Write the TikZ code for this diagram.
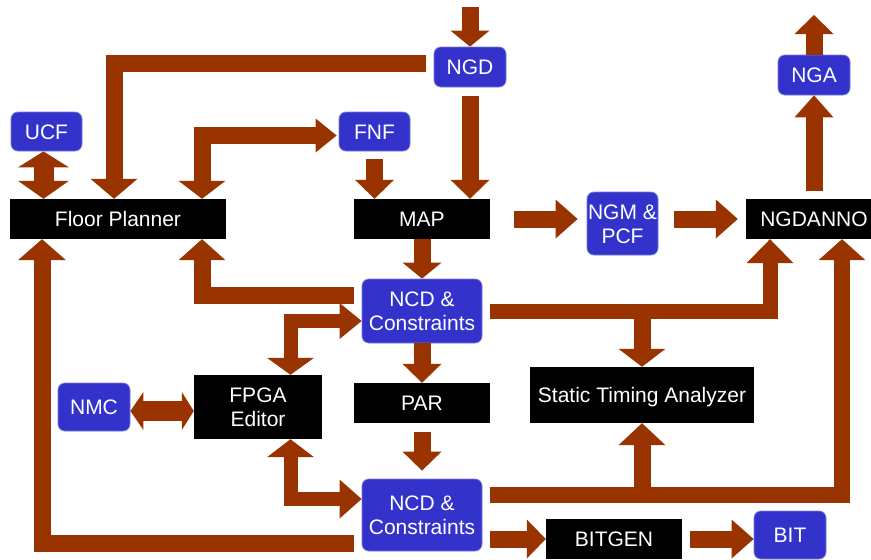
\documentclass[tikz,border=0pt]{standalone}
\usepackage{fontspec}
\setmainfont{Liberation Sans}
\usetikzlibrary{arrows.meta,calc}
\definecolor{brn}{HTML}{993300}
\definecolor{bluf}{HTML}{3333CC}
\definecolor{blub}{HTML}{7777DD}
\begin{document}
\begin{tikzpicture}[x=1pt,y=-1pt,
 lbl/.style={text=white, inner sep=0pt, font=\fontsize{21}{24}\selectfont, align=center, text height=15pt, text depth=0pt},
 two/.style={text height=39pt, text depth=0pt},
 blk/.style={lbl, fill=black},
 blu/.style={lbl, fill=bluf, draw=blub, line width=0.8pt, rounded corners=7pt},
 fat/.style={draw=brn, line width=17pt, line join=miter},
 ta/.tip={Triangle[width=39pt,length=19pt,line width=0pt]},
 tb/.tip={Triangle[width=47pt,length=20pt,line width=0pt]},
 tc/.tip={Triangle[width=39pt,length=22pt,line width=0pt]},
]
\useasboundingbox (0,0) rectangle (871,560);
\fill[white] (0,0) rectangle (871,560);

% nodes
\node[blu, minimum width=71, minimum height=39] (ucf) at (46.5,131.5) {UCF};
\node[blk, minimum width=216, minimum height=40] (fp) at (118,219) {Floor Planner};
\node[blu, minimum width=71, minimum height=39] (fnf) at (374.5,131.5) {FNF};
\node[blk, minimum width=136, minimum height=40] (map) at (422,219) {MAP};
\node[blu, minimum width=72, minimum height=40] (ngd) at (470,67) {NGD};
\node[blu, minimum width=72, minimum height=40] (nga) at (814,75) {NGA};
\node[blu, two, minimum width=71, minimum height=63] (ngm) at (622.5,223.5) {NGM \&\\PCF};
\node[blk, minimum width=136, minimum height=40] (ngdanno) at (814,219) {NGDANNO};
\node[blu, two, minimum width=120, minimum height=64] (ncd1) at (422,311) {NCD \&\\Constraints};
\node[blk, two, minimum width=128, minimum height=64] (fpga) at (258,407) {FPGA\\Editor};
\node[blu, minimum width=72, minimum height=48] (nmc) at (94,407) {NMC};
\node[blk, minimum width=136, minimum height=40] (par) at (422,403) {PAR};
\node[blu, two, minimum width=120, minimum height=72] (ncd2) at (422,515) {NCD \&\\Constraints};
\node[blk, minimum width=224, minimum height=56] (sta) at (642,395) {Static Timing Analyzer};
\node[blk, minimum width=136, minimum height=40] (bitgen) at (614,539) {BITGEN};
\node[blu, minimum width=72, minimum height=48] (bit) at (790,535) {BIT};

\coordinate (in) at (470,7);
\coordinate (out) at (814,15);

% connectors
\draw[fat,-{Triangle[width=39pt,length=16pt,line width=0pt]}] (in) -- (ngd.north);
\draw[fat,-ta] ($(ngd.south)+(0,9)$) -- (ngd.south |- map.north);
\draw[fat,-tb] ($(ngd.west)+(-8,-4)$) -| ($(fp.north)+(-4,0)$);
\draw[fat,line width=20pt,{Triangle[width=51pt,length=16pt,line width=0pt]}-{Triangle[width=51pt,length=18pt,line width=0pt]}]
  ($(ucf.south)+(-3,0)$) -- ($(ucf.south |- fp.north)+(-3,0)$);
\draw[fat,{Triangle[width=47pt,length=18pt,line width=0pt]}-{Triangle[width=34pt,length=21pt,line width=0pt]}]
  ($(fp.north)+(84,0)$) |- ($(fnf.west)+(-2,4)$);
\draw[fat,-ta] ($(fnf.south)+(0,8)$) -- (fnf.south |- map.north);
\draw[fat,-{Triangle[width=39pt,length=16pt,line width=0pt]}] (map.south) -- (ncd1.north);
\draw[fat,-tc] ($(map.east)+(24,0)$) -- ($(ngm.west |- map.east)+(-9,0)$);
\draw[fat,-tc] ($(ngm.east |- ngdanno.west)+(16,0)$) -- ($(ngdanno.west)+(-8,0)$);
\draw[fat,-tc] ($(nga.south |- ngdanno.north)+(0,-8)$) -- (nga.south);
\draw[fat,-ta] (nga.north) -- (out);
\draw[fat,-{Triangle[width=47pt,length=21pt,line width=0pt]}] ($(ncd1.west)+(-8,-16)$) -| ($(fp.south)+(84,0)$);
\draw[fat,-{Triangle[width=48pt,length=21pt,line width=0pt]}] ($(ncd2.west)+(-8,28)$) -| ($(fp.south)+(-76,0)$);
\draw[fat,line width=14pt,{Triangle[width=47pt,length=17pt,line width=0pt]}-{Triangle[width=36pt,length=22pt,line width=0pt]}]
  ($(fpga.north)+(32.5,0)$) |- ($(ncd1.west)+(0,10)$);
\draw[fat,line width=14pt,{Triangle[width=47pt,length=18pt,line width=0pt]}-{Triangle[width=39pt,length=22pt,line width=0pt]}]
  ($(fpga.south)+(32.5,0)$) |- ($(ncd2.west)+(0,-16)$);
\draw[fat,line width=20pt,{Triangle[width=38pt,length=13pt,line width=0pt]}-{Triangle[width=38pt,length=12pt,line width=0pt]}]
  ($(nmc.east)+(0,4)$) -- ($(fpga.west)+(0,4)$);
\draw[fat,-ta] (ncd1.south) -- (par.north);
\draw[fat,-ta] ($(par.south)+(0,9)$) -- ($(ncd2.north)+(0,-8)$);
\coordinate (j1) at ($(ncd1.east)+(8,0)$);
\draw[fat,line width=15pt,-{Triangle[width=47pt,length=24pt,line width=0pt]}] (j1) -| ($(ngdanno.south)+(-44,0)$);
\draw[fat,-{Triangle[width=47pt,length=18pt,line width=0pt]}] (sta.north |- j1) -- (sta.north);
\coordinate (j2) at ($(ncd2.east)+(8,-20)$);
\draw[fat,line width=16pt,-{Triangle[width=47pt,length=21pt,line width=0pt]}] (j2) -| ($(ngdanno.south)+(28,0)$);
\draw[fat,-{Triangle[width=47pt,length=22pt,line width=0pt]}] (sta.south |- j2) -- (sta.south);
\draw[fat,-ta] ($(ncd2.east |- bitgen.west)+(8,0)$) -- (bitgen.west);
\draw[fat,-tc] ($(bitgen.east)+(8,0)$) -- (bit.west |- bitgen.east);
\end{tikzpicture}
\end{document}
